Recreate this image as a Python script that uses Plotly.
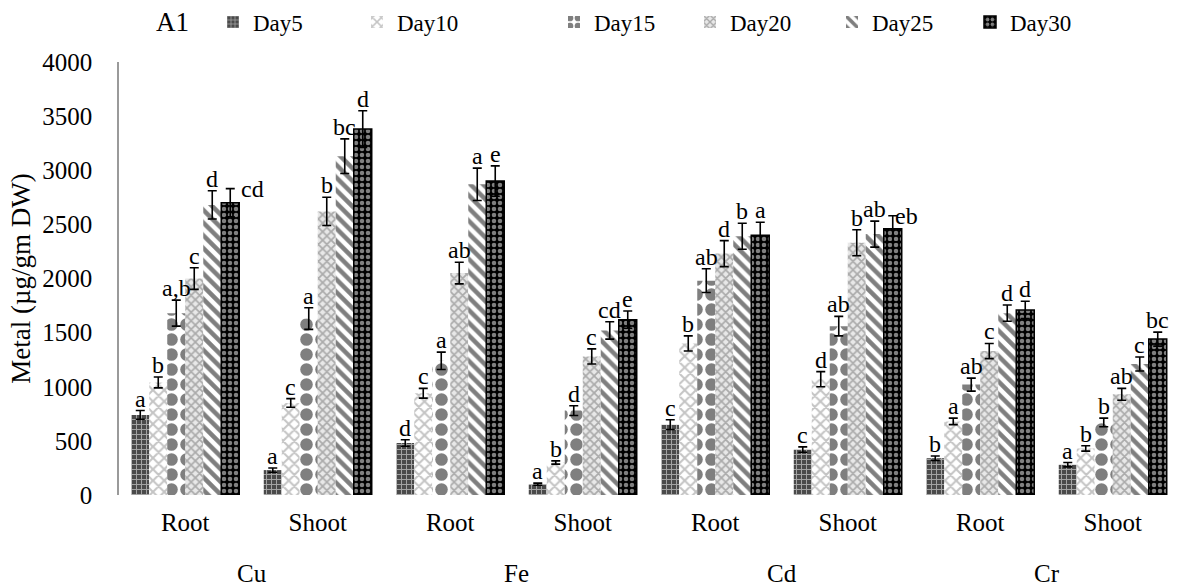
import plotly.graph_objects as go

metals = ["Cu", "Fe", "Cd", "Cr"]
parts = ["Root", "Shoot", "Root", "Shoot", "Root", "Shoot", "Root", "Shoot"]
categories = [f"{m}-{p}" for m in metals for p in ["Root", "Shoot"]]
days = ["Day5", "Day10", "Day15", "Day20", "Day25", "Day30"]

# values per day across the 8 groups (Cu Root, Cu Shoot, Fe Root, Fe Shoot, Cd Root, Cd Shoot, Cr Root, Cr Shoot)
day5 = [740, 230, 480, 100, 650, 420, 340, 280]
day10 = [1040, 850, 940, 300, 1400, 1070, 680, 430]
day15 = [1680, 1630, 1240, 780, 1980, 1560, 1020, 670]
day20 = [2000, 2620, 2050, 1280, 2230, 2330, 1330, 930]
day25 = [2680, 3130, 2870, 1520, 2390, 2410, 1680, 1210]
day30 = [2700, 3380, 2900, 1620, 2400, 2460, 1710, 1440]

err5 = [40, 20, 30, 10, 45, 25, 20, 20]
err10 = [50, 40, 45, 15, 70, 70, 30, 25]
err15 = [120, 100, 80, 45, 110, 90, 60, 40]
err20 = [100, 130, 100, 70, 120, 120, 70, 55]
err25 = [130, 160, 150, 80, 120, 120, 75, 65]
err30 = [130, 170, 140, 80, 120, 120, 80, 65]

lab5 = ["a", "a", "d", "a", "c", "c", "b", "a"]
lab10 = ["b", "c", "c", "b", "b", "d", "a", "b"]
lab15 = ["a,b", "a", "a", "d", "ab", "ab", "ab", "b"]
lab20 = ["c", "b", "ab", "c", "d", "b", "c", "ab"]
lab25 = ["d", "bc", "a", "cd", "b", "ab", "d", "c"]
lab30 = ["cd", "d", "e", "e", "a", "eb", "d", "bc"]

values = [day5, day10, day15, day20, day25, day30]
errors = [err5, err10, err15, err20, err25, err30]
labels = [lab5, lab10, lab15, lab20, lab25, lab30]

FONT = "Liberation Serif"
FS_TICK = 25
FS_TITLE = 27
FS_LEG = 23
FS_LAB = 24

patterns = [
    dict(shape="+", fgcolor="white", bgcolor="#4a4a4a", size=5, solidity=0.35),
    dict(shape="x", fgcolor="#8a8a8a", bgcolor="white", size=8, solidity=0.45),
    dict(shape=".", fgcolor="black", bgcolor="white", size=15, solidity=0.55),
    dict(shape="x", fgcolor="#6e6e6e", bgcolor="#e8e8e8", size=6, solidity=0.5),
    dict(shape="\\", fgcolor="black", bgcolor="white", size=9, solidity=0.5),
    dict(shape=".", fgcolor="white", bgcolor="black", size=6, solidity=0.45),
]
lines = [0, 0, 0, 0, 0, 1.5]

# legend entry positions (left edge, px) and label exceptions
legend_px = [213, 357, 554, 690, 832, 970]
side_labels = {(5, 0): 22, (5, 5): 14}

fig = go.Figure()
for i, d in enumerate(days):
    fig.add_trace(go.Bar(
        x=categories, y=values[i], name=d,
        legend="legend" if i == 0 else f"legend{i + 1}",
        marker=dict(pattern=patterns[i], color=patterns[i]["bgcolor"],
                    line=dict(color="black", width=lines[i])),
        error_y=dict(type="data", array=errors[i], visible=True,
                     color="black", thickness=1.6, width=4.5),
    ))

# significance letters above error bars
n = len(days)
slot = 1 - 0.185
bw = slot / n
for i in range(n):
    for j, c in enumerate(categories):
        xoff = -slot / 2 + bw * (i + 0.5)
        side = side_labels.get((i, j))
        fig.add_annotation(
            x=j + xoff, y=values[i][j] + errors[i][j], xref="x", yref="y",
            text=labels[i][j], showarrow=False, xanchor="center",
            yanchor="middle" if side else "bottom",
            xshift=side or 0, yshift=0 if side else -3,
            font=dict(family=FONT, size=FS_LAB, color="black"))

# metal labels under the Root/Shoot pairs
for k, m in enumerate(metals):
    fig.add_annotation(x=2 * k + 0.5, y=-(573 - 495) / 433, xref="x", yref="paper",
                       text=m, showarrow=False, xanchor="center", yanchor="middle",
                       font=dict(family=FONT, size=FS_TICK, color="black"))

fig.add_annotation(x=(172 - 119) / 1060, y=(495 - 22) / 433, xref="paper", yref="paper",
                   text="A1", showarrow=False, xanchor="center", yanchor="middle",
                   font=dict(family=FONT, size=FS_TITLE, color="black"))

legend_common = dict(orientation="h", xanchor="left", y=1 - 22 / 586, yanchor="middle",
                     yref="container", xref="container", itemwidth=30,
                     font=dict(family=FONT, size=FS_LEG), bgcolor="rgba(0,0,0,0)")
legends = {}
for i in range(n):
    key = "legend" if i == 0 else f"legend{i + 1}"
    legends[key] = dict(legend_common, x=legend_px[i] / 1179)

fig.update_layout(
    width=1179, height=586,
    margin=dict(l=119, r=0, t=62, b=91, autoexpand=False),
    plot_bgcolor="white", paper_bgcolor="white",
    barmode="group", bargap=0.185, bargroupgap=0,
    font=dict(family=FONT, size=FS_TICK, color="black"),
    showlegend=True,
    xaxis=dict(type="category", tickvals=categories, ticktext=parts,
               showline=False, ticks="", showgrid=False, zeroline=False,
               ticklabelstandoff=10,
               tickfont=dict(family=FONT, size=FS_TICK)),
    yaxis=dict(range=[0, 4000], dtick=500, showgrid=False, zeroline=False,
               showline=True, linecolor="#9a9a9a", linewidth=1.5, ticks="",
               ticklabelstandoff=20,
               tickfont=dict(family=FONT, size=FS_TICK),
               title=dict(text="Metal (µg/gm DW)", standoff=4,
                          font=dict(family=FONT, size=FS_TITLE))),
    **legends,
)

fig.write_html("out.html")
